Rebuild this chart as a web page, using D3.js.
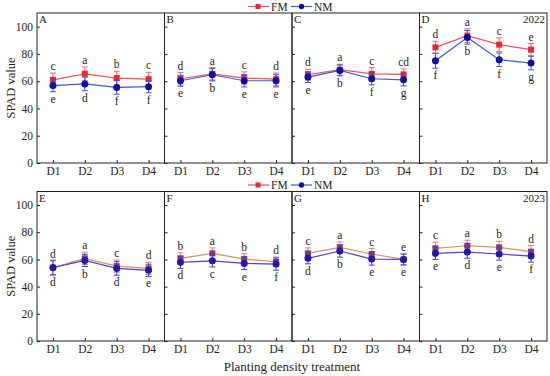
<!DOCTYPE html>
<html><head><meta charset="utf-8">
<script src="https://cdn.jsdelivr.net/npm/d3@7"></script>
<style>body{margin:0;background:#fff}svg{display:block}text{font-family:"Liberation Serif","Times New Roman",serif}</style>
</head><body><svg id="c" width="550" height="376"></svg>
<script>
const categories = ["D1","D2","D3","D4"];
const panels = ["A","B","C","D","E","F","G","H"];
const years = ["2022","2023"];
const yTicks = [0,20,40,60,80,100];
const fmValues = [
  [61.0,65.4,62.3,61.5],[61.8,65.4,62.3,61.5],[64.7,68.4,65.4,65.0],[84.8,93.4,86.8,83.1],
  [53.9,60.8,55.1,53.4],[60.8,64.5,60.3,58.3],[64.5,68.9,64.0,60.0],[68.2,70.1,68.9,65.7]
];
const fmErrors = [
  [5,5,5,5],[4.5,4.5,4.5,4.5],[4,4,4.5,4],[4.5,5,5,4.5],
  [5,4.5,4.5,4.5],[4,4,4,3.5],[4,4,4,4],[4.5,4,4.5,4.5]
];
const nmValues = [
  [56.8,58.0,55.4,56.0],[60.3,64.7,60.3,60.3],[63.0,67.9,61.8,61.0],[75.0,92.1,75.7,73.3],
  [54.0,59.3,53.4,52.0],[57.9,59.0,57.1,56.6],[60.8,66.2,60.3,60.0],[64.5,65.4,64.0,62.5]
];
const nmErrors = [
  [4.5,5,5,4.5],[4,4.5,4.5,4.5],[4,4,4.5,4.5],[5.5,5,5,5],
  [5.5,4.5,5,4.5],[4.5,4.5,4.5,4.5],[4,4.5,4.5,4],[4.5,4.5,4.5,4.5]
];
const fmLetters = [["c","a","b","c"],["d","a","c","d"],["d","a","c","cd"],["d","a","c","e"],
  ["d","a","c","d"],["b","a","b","d"],["c","a","c","e"],["c","a","b","d"]];
const nmLetters = [["e","d","f","f"],["e","b","e","e"],["e","b","f","g"],["f","b","f","g"],
  ["d","b","d","e"],["d","c","e","f"],["d","b","e","e"],["e","d","e","f"]];

const svg = d3.select("#c");
const left = 37, right = 547, pw = (right-left)/4;
const rows = [{top:13,bottom:163},{top:191.5,bottom:341}];
const colors = [
  {fmLine:"#f0505a", fmMark:"#e8282e", fmErr:"#f06a70", nmLine:"#3a5ad0", nmMark:"#0c10a8", nmErr:"#4050d0"},
  {fmLine:"#d4915a", fmMark:"#8a3a5c", fmErr:"#e07a80", nmLine:"#5a3cd0", nmMark:"#2418a8", nmErr:"#4a40d0"}
];

panels.forEach((p,pi)=>{
  const r = Math.floor(pi/4), c = pi%4;
  const x0 = left + c*pw, x1 = x0+pw;
  const row = rows[r], col = colors[r];
  const x = d3.scalePoint().domain(categories).range([x0,x1]).padding(0.5);
  const y = d3.scaleLinear().domain([0,110]).range([row.bottom,row.top]);
  const g = svg.append("g");
  // frame
  g.append("rect").attr("x",x0).attr("y",row.top).attr("width",pw).attr("height",row.bottom-row.top)
    .attr("fill","none").attr("stroke","#222").attr("stroke-width",1);
  // y axis inward ticks
  const ya = g.append("g").attr("transform",`translate(${x0},0)`)
    .call(d3.axisRight(y).tickValues(yTicks).tickSize(3).tickFormat(""));
  ya.select(".domain").remove();
  ya.selectAll("line").attr("stroke","#222");
  if(c===0){
    const yl = g.append("g").attr("transform",`translate(${x0},0)`)
      .call(d3.axisLeft(y).tickValues(yTicks).tickSize(0).tickPadding(4));
    yl.select(".domain").remove();
    yl.selectAll("text").attr("font-size",11.5).attr("fill","#222").style("font-family","Liberation Serif");
    g.append("text").attr("transform",`translate(15,${(row.top+row.bottom)/2}) rotate(-90)`)
      .attr("text-anchor","middle").attr("font-size",12.5).attr("fill","#222").text("SPAD value");
  }
  // x axis inward ticks + labels
  const xa = g.append("g").attr("transform",`translate(0,${row.bottom})`)
    .call(d3.axisTop(x).tickSize(3).tickFormat(""));
  xa.select(".domain").remove();
  xa.selectAll("line").attr("stroke","#222");
  const xl = g.append("g").attr("transform",`translate(0,${row.bottom})`)
    .call(d3.axisBottom(x).tickSize(0).tickPadding(4));
  xl.select(".domain").remove();
  xl.selectAll("text").attr("font-size",11.5).attr("fill","#222").style("font-family","Liberation Serif");
  // panel letter
  g.append("text").attr("x",x0+2).attr("y",row.top+10).attr("font-size",11).attr("fill","#222").text(p);
  if(c===3) g.append("text").attr("x",x1-2).attr("y",row.top+10).attr("text-anchor","end")
    .attr("font-size",11).attr("fill","#222").text(years[r]);

  const series = [
    {v:fmValues[pi], e:fmErrors[pi], l:fmLetters[pi], line:col.fmLine, mark:col.fmMark, err:col.fmErr, type:"sq", up:true},
    {v:nmValues[pi], e:nmErrors[pi], l:nmLetters[pi], line:col.nmLine, mark:col.nmMark, err:col.nmErr, type:"ci", up:false}
  ];
  series.forEach(s=>{
    const pts = categories.map((k,i)=>({k, v:s.v[i], e:s.e[i], l:s.l[i]}));
    // error bars
    pts.forEach(d=>{
      const cx = x(d.k);
      g.append("line").attr("x1",cx).attr("x2",cx).attr("y1",y(d.v-d.e)).attr("y2",y(d.v+d.e))
        .attr("stroke",s.err).attr("stroke-width",1);
      [d.v-d.e,d.v+d.e].forEach(t=>g.append("line").attr("x1",cx-3).attr("x2",cx+3)
        .attr("y1",y(t)).attr("y2",y(t)).attr("stroke",s.err).attr("stroke-width",1));
    });
    g.append("path").datum(pts).attr("fill","none").attr("stroke",s.line).attr("stroke-width",1.2)
      .attr("d",d3.line().x(d=>x(d.k)).y(d=>y(d.v)));
    pts.forEach(d=>{
      const cx = x(d.k), cy = y(d.v);
      if(s.type==="sq") g.append("rect").attr("x",cx-3).attr("y",cy-3).attr("width",6).attr("height",6).attr("fill",s.mark);
      else g.append("circle").attr("cx",cx).attr("cy",cy).attr("r",3.5).attr("fill",s.mark);
      const ty = s.up ? y(d.v+d.e)-3 : y(d.v-d.e)+11;
      g.append("text").attr("x",cx).attr("y",ty).attr("text-anchor","middle").attr("font-size",11.5)
        .attr("fill","#222").text(d.l);
    });
  });
});

// legends
rows.forEach((row,r)=>{
  const ly = row.top - 6.5;
  const col = colors[r];
  const lg = svg.append("g");
  lg.append("line").attr("x1",248).attr("x2",269).attr("y1",ly).attr("y2",ly).attr("stroke","#f0505a").attr("stroke-width",1.2);
  lg.append("rect").attr("x",255.5).attr("y",ly-2.5).attr("width",5).attr("height",5).attr("fill","#e8282e");
  lg.append("text").attr("x",271).attr("y",ly+4).attr("font-size",11.5).attr("fill","#222").text("FM");
  lg.append("line").attr("x1",291).attr("x2",312).attr("y1",ly).attr("y2",ly).attr("stroke","#3a5ad0").attr("stroke-width",1.2);
  lg.append("circle").attr("cx",301.5).attr("cy",ly).attr("r",2.7).attr("fill","#0c10a8");
  lg.append("text").attr("x",314).attr("y",ly+4).attr("font-size",11.5).attr("fill","#222").text("NM");
});
svg.append("text").attr("x",(left+right)/2).attr("y",371).attr("text-anchor","middle")
  .attr("font-size",13).attr("fill","#222").text("Planting density treatment");
</script></body></html>
